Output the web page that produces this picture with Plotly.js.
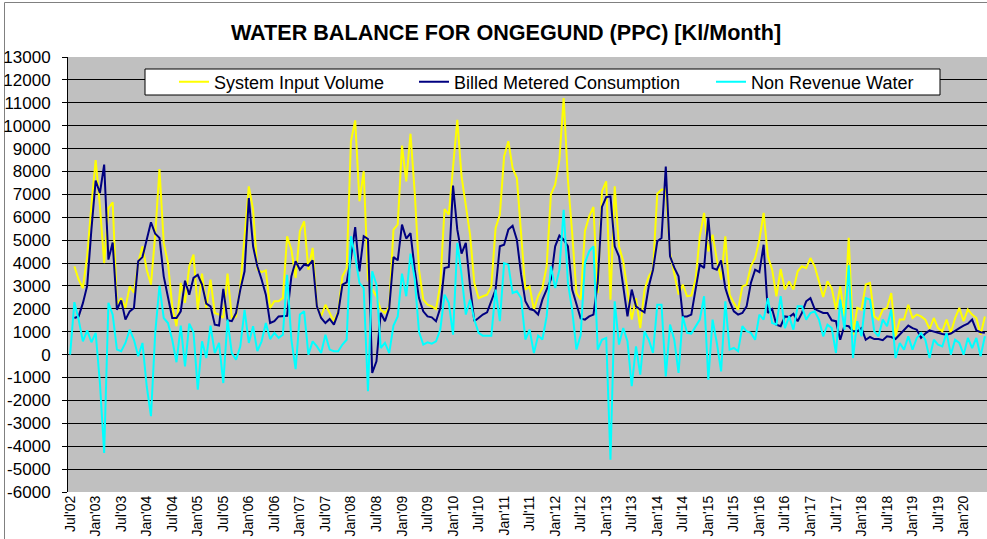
<!DOCTYPE html>
<html>
<head>
<meta charset="utf-8">
<script src="https://cdn.plot.ly/plotly-3.0.1.min.js"></script>
<style>html,body{margin:0;padding:0;background:#fff;}#chart{width:987px;height:539px;}</style>
</head>
<body>
<div id="chart"></div>
<script>
// ---- data (monthly, Jul'02 .. Jun'20) ----
const monthNames = ['Jan','Feb','Mar','Apr','May','Jun','Jul','Aug','Sep','Oct','Nov','Dec'];
const startYear = 2002, startMonth = 6, nMonths = 216;
const months = [];
for (let k = 0; k < nMonths; k++) {
  const m = (startMonth + k) % 12;
  const y = startYear + Math.floor((startMonth + k) / 12);
  months.push(monthNames[m] + "'" + String(y % 100).padStart(2, '0'));
}
const tickMonths = months.filter((_, i) => i % 6 === 0);

const systemInputVolume = [null,3860,3280,2900,4300,6500,8500,6500,4000,6400,
6650,2180,2470,2040,2980,2700,4000,4730,3710,3060,
5240,8100,4880,4000,2110,1240,3130,2260,3860,4370,
1960,3540,2040,3280,1820,1750,1600,3540,1600,1670,
2980,5170,7350,6330,3710,3600,3680,2040,2330,2330,
2470,5170,4590,3350,5390,5820,3710,4660,2110,1670,
2180,1820,1460,1890,3420,3780,9320,10230,6700,8010,
3280,2840,2550,1960,1820,2110,5460,5680,9130,7570,
9650,7060,3710,2400,2180,2110,1990,3060,6360,6110,
8080,10260,7790,6480,5240,3130,2470,2550,2620,2980,
5530,6110,8660,9320,8150,7710,5460,2840,2980,1960,
2550,2910,3860,6990,7420,8520,11210,7640,5310,2690,
2400,5400,6040,6450,2690,7130,7570,2400,7350,4730,
4080,2690,1530,2470,1160,2840,3420,3710,7030,7200,
7230,4440,3500,2620,3060,2550,2580,3280,5170,6190,
4510,5240,4150,3280,5170,2620,2260,1960,2980,3060,
3860,4220,5020,6190,4290,3710,2550,3740,2840,3200,
2840,3640,3860,3780,4220,3860,3200,2520,3200,2900,
1970,2980,1670,5100,870,2040,1970,3060,3130,1670,
1530,1970,2040,2690,800,1530,1530,2180,1600,1750,
1670,1530,1120,1600,1160,1020,1530,950,1600,2040,
1460,1970,1750,1600,870,1670];

const billedMeteredConsumption = [null,1600,1670,2250,3000,5460,7600,7060,8300,4150,
4900,1960,2370,1530,1890,2040,4080,4260,5020,5780,
5280,5100,3420,2470,1600,1600,1890,3230,2620,3350,
3490,3060,2230,2110,1310,1270,2870,1500,1460,1820,
2840,3640,6840,4730,3860,3280,2620,1380,1460,1670,
1670,1700,3420,4080,3710,3930,3890,4120,2110,1600,
1380,1560,1310,1820,3060,3160,4220,5570,3640,5170,
5050,-800,-290,1820,1460,2040,4260,4120,5680,5070,
5310,3710,2470,1890,1670,1630,1460,2040,3780,3830,
7380,5460,4410,4880,2980,1460,1600,1750,1850,2330,
2840,4730,4800,5460,5630,5020,3490,2330,1990,1940,
1750,2400,2840,3280,4730,5200,5020,4730,2840,2180,
1580,1530,1670,1750,3130,6450,6880,6910,4730,4290,
3060,1670,2840,2110,1960,1850,2980,3710,4950,5090,
8220,4290,3800,3420,1670,1670,1750,2840,3930,3780,
5970,3780,3710,4120,2910,2330,1890,1750,1820,2110,
3130,3710,3600,4800,1820,1990,1310,1240,1670,1640,
1790,1460,1820,2330,2470,1990,1890,1820,1820,1500,
1460,650,1270,1240,1020,1020,1160,650,770,680,
680,630,800,770,680,870,1090,1270,1160,1090,
730,920,1060,1020,950,900,870,920,1060,1160,
1270,1350,1530,1060,980,950];

const nonRevenueWater = [0,2290,1530,580,1060,540,950,-1240,-4290,2260,
1750,220,150,510,1090,650,-70,510,-1380,-2690,
950,3010,1600,1380,650,-330,1270,-510,1350,980,
-1530,580,-150,1270,70,510,-1240,1530,70,-220,
360,1960,510,1240,150,580,1380,680,950,730,
870,3490,650,-630,1750,1890,0,580,360,70,
870,220,150,150,440,650,5170,4290,3130,2910,
-1600,3640,3060,290,510,70,1270,1670,3540,2550,
4410,3300,1000,440,540,480,580,1090,2620,2260,
870,4880,3500,1750,2400,1530,950,830,830,830,
2840,1460,4000,3930,2690,2770,2470,660,1090,70,
830,660,1670,3860,2910,3710,6330,3130,1960,220,
850,4000,4510,4730,220,650,730,-4590,2330,440,
1160,580,-1380,360,-870,1020,650,70,2180,2180,
-950,1310,650,-800,1670,950,920,1240,1530,2550,
-1090,1530,510,-730,2330,220,290,150,1240,1020,
950,650,1750,1530,2470,1380,1310,2550,1160,1670,
1090,2110,2110,1530,1820,1890,1530,800,1310,1160,
70,2400,1090,3900,-150,1460,800,2470,2400,1020,
800,1530,1240,1970,-150,510,220,800,220,730,
940,650,-150,650,440,360,950,0,650,510,
0,730,290,730,-70,800];

const yTicks = [-6000,-5000,-4000,-3000,-2000,-1000,0,1000,2000,3000,4000,5000,6000,7000,8000,9000,10000,11000,12000,13000];
const seriesNames = ['System Input Volume','Billed Metered Consumption','Non Revenue Water'];
const seriesColors = ['#FFFF00','#000080','#00FFFF'];

// ---- layout helpers (pixel -> paper) ----
const W = 987, H = 539;
const PL = 68, PR = 987, PT = 57, PB = 492;
const px2x = p => (p - PL) / (PR - PL);
const py2y = p => (PB - p) / (PB - PT);
const FONT = 'Liberation Sans, Arial, Helvetica, sans-serif';

const series = [systemInputVolume, billedMeteredConsumption, nonRevenueWater];
const legendIds = ['legend','legend2','legend3'];
const traces = series.map((vals, k) => ({
  x: months, y: vals, type: 'scatter', mode: 'lines',
  name: seriesNames[k], line: {color: seriesColors[k], width: 2},
  legend: legendIds[k], connectgaps: false, hoverinfo: 'x+y'
}));

const legendLeftPx = [174, 414, 711];
function legendCfg(px) {
  return {x: px2x(px), xref: 'paper', xanchor: 'left',
          y: py2y(82), yref: 'paper', yanchor: 'middle',
          orientation: 'h', bgcolor: 'rgba(0,0,0,0)', borderwidth: 0,
          font: {family: FONT, size: 18, color: '#000'}};
}

const layout = {
  width: W, height: H,
  margin: {l: PL, r: W - PR, t: PT, b: H - PB, pad: 0, autoexpand: false},
  paper_bgcolor: '#FFFFFF', plot_bgcolor: '#C0C0C0',
  font: {family: FONT, color: '#000'},
  showlegend: true,
  title: {text: 'WATER BALANCE FOR ONGEGUND (PPC) [Kl/Month]',
          font: {family: FONT, size: 21.6, color: '#000', weight: 'bold'},
          x: 506 / W, xref: 'container', xanchor: 'center',
          y: 1 - 32 / H, yref: 'container', yanchor: 'middle'},
  xaxis: {type: 'category', range: [-0.5, nMonths - 0.5],
          tickmode: 'array', tickvals: tickMonths, ticktext: tickMonths,
          tickangle: -90, tickfont: {family: FONT, size: 14, color: '#000'},
          showgrid: false, zeroline: false, showline: false, ticks: '', automargin: false},
  xaxis2: {overlaying: 'x', anchor: 'free', position: 6000 / 19000, side: 'bottom',
           type: 'linear', range: [-0.5, nMonths - 0.5], tick0: -0.5, dtick: 1,
           ticks: 'outside', ticklen: 4, tickwidth: 1, tickcolor: '#000',
           showticklabels: false, showgrid: false, zeroline: false,
           showline: true, linecolor: '#000', linewidth: 1},
  yaxis: {range: [-6000, 13000], tickmode: 'array', tickvals: yTicks,
          ticktext: yTicks.map(v => String(v)),
          tickfont: {family: FONT, size: 17, color: '#000'},
          showgrid: true, gridcolor: '#000', gridwidth: 1, zeroline: false,
          showline: true, linecolor: '#000', linewidth: 1, automargin: false,
          ticks: 'outside', ticklen: 5, tickcolor: '#000', ticklabelstandoff: 8},
  legend: legendCfg(legendLeftPx[0]),
  legend2: legendCfg(legendLeftPx[1]),
  legend3: legendCfg(legendLeftPx[2]),
  shapes: [
    {type: 'rect', xref: 'paper', yref: 'paper', x0: px2x(145), x1: px2x(940),
     y0: py2y(95), y1: py2y(69), fillcolor: '#FFFFFF', line: {color: '#000', width: 1}, layer: 'above'},
    {type: 'rect', xref: 'paper', yref: 'paper', x0: px2x(4.5), x1: px2x(1010),
     y0: py2y(560), y1: py2y(2.5), fillcolor: 'rgba(0,0,0,0)', line: {color: '#808080', width: 1}, layer: 'below'}
  ]
};

Plotly.newPlot('chart', traces, layout, {displayModeBar: false, staticPlot: true});
</script>
</body>
</html>
